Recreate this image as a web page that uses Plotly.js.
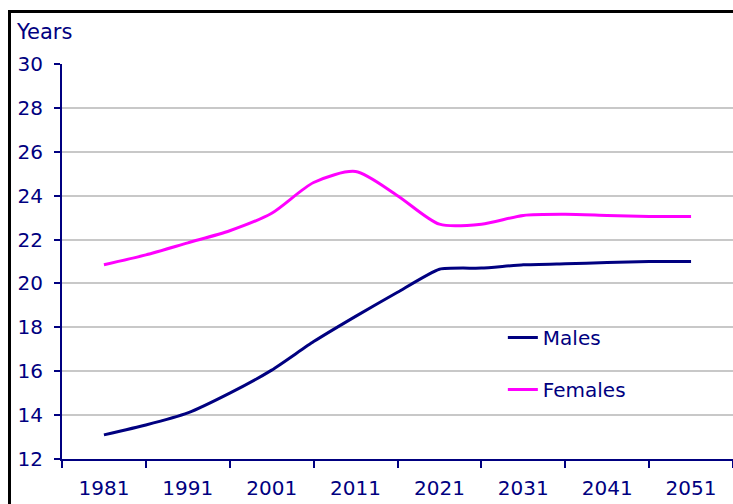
<!DOCTYPE html>
<html>
<head>
<meta charset="utf-8">
<script src="https://cdn.plot.ly/plotly-3.0.1.min.js"></script>
<style>
  html, body { margin: 0; padding: 0; background: #ffffff; overflow: hidden; }
  #frame { position: absolute; left: 8px; top: 10px; width: 800px; height: 600px;
           border-left: 3px solid #000000; border-top: 3px solid #000000; }
  #chart { position: absolute; left: 0; top: 0; width: 733px; height: 504px; }
</style>
</head>
<body>
<div id="frame"></div>
<div id="chart"></div>
<script>
const years = [1981, 1986, 1991, 1996, 2001, 2006, 2011, 2016, 2021, 2026, 2031, 2036, 2041, 2046, 2051];
const males = [13.1, 13.55, 14.1, 15.0, 16.05, 17.35, 18.5, 19.6, 20.65, 20.7, 20.85, 20.9, 20.95, 21.0, 21.0];
const females = [20.85, 21.3, 21.85, 22.4, 23.2, 24.6, 25.1, 24.0, 22.7, 22.7, 23.1, 23.15, 23.1, 23.05, 23.05];
const tickYears = [1981, 1991, 2001, 2011, 2021, 2031, 2041, 2051];
const tickLabels = ['1981', '1991', '2001', '2011', '2021', '2031', '2041', '2051'];

const navy = '#000080';
const fontFam = '"DejaVu Sans", Verdana, sans-serif';

const traces = [
  { x: years, y: males, name: 'Males', type: 'scatter', mode: 'lines',
    line: { color: navy, width: 3, shape: 'spline', smoothing: 0.5 }, legendgroup: 'm' },
  { x: years, y: females, name: 'Females', type: 'scatter', mode: 'lines',
    line: { color: '#ff00ff', width: 3, shape: 'spline', smoothing: 0.75 }, legendgroup: 'f' }
];

const layout = {
  width: 733, height: 504,
  margin: { l: 62, r: 0, t: 64, b: 45 },
  paper_bgcolor: 'rgba(0,0,0,0)',
  plot_bgcolor: 'rgba(0,0,0,0)',
  font: { family: fontFam, size: 20, color: navy },
  showlegend: true,
  legend: { x: 0.657, y: 0.357, xanchor: 'left', yanchor: 'top',
            bgcolor: 'rgba(0,0,0,0)', font: { size: 20, color: navy, family: fontFam },
            traceorder: 'grouped', tracegroupgap: 23 },
  xaxis: {
    range: [1976, 2056], tickvals: tickYears, ticktext: tickLabels,
    ticks: '', showgrid: false, zeroline: false,
    showline: true, linecolor: navy, linewidth: 2,
    tickfont: { size: 20, color: navy, family: fontFam },
    ticklabelstandoff: 10,
    minor: { tick0: 1976, dtick: 10, ticks: 'outside', ticklen: 7, tickwidth: 2, tickcolor: navy, showgrid: false },
    fixedrange: true
  },
  yaxis: {
    range: [12, 30], dtick: 2, tick0: 12,
    ticks: 'outside', ticklen: 6, tickwidth: 2, tickcolor: navy,
    showgrid: true, gridcolor: '#c8c8c8', gridwidth: 2,
    zeroline: false, showline: true, linecolor: navy, linewidth: 2,
    tickfont: { size: 20, color: navy, family: fontFam },
    ticklabelstandoff: 7,
    fixedrange: true
  },
  annotations: [
    { text: 'Years', xref: 'paper', yref: 'paper', x: -0.071, y: 1.082,
      xanchor: 'left', yanchor: 'middle', showarrow: false,
      font: { size: 21, color: navy, family: fontFam } }
  ]
};

Plotly.newPlot('chart', traces, layout, { displayModeBar: false, staticPlot: true });
</script>
</body>
</html>
